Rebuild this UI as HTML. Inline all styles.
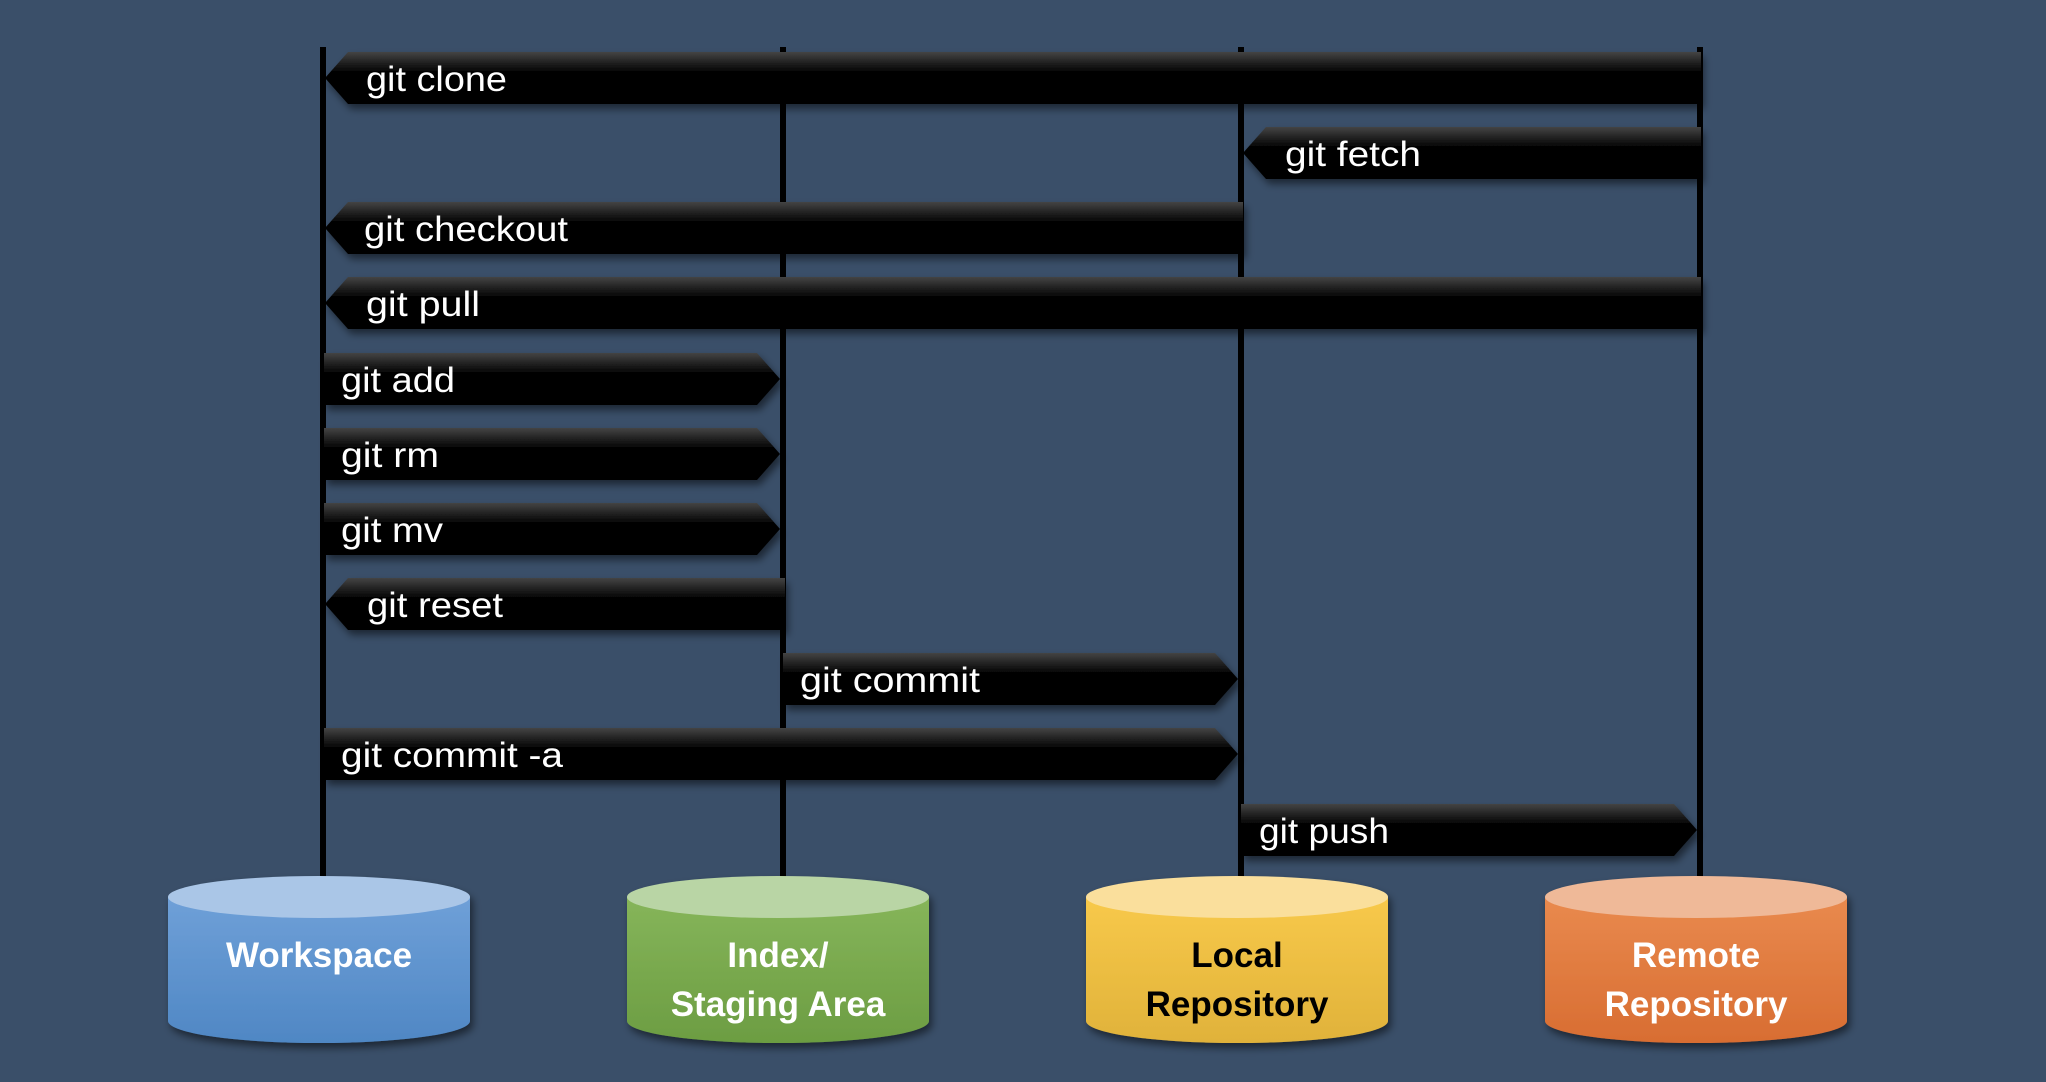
<!DOCTYPE html>
<html><head><meta charset="utf-8"><style>
html,body{margin:0;padding:0;background:#3a4f69;}
svg{display:block}
text{font-family:"Liberation Sans",sans-serif}
</style></head><body>
<svg width="2046" height="1082" viewBox="0 0 2046 1082" xmlns="http://www.w3.org/2000/svg">
<defs>
<linearGradient id="bar" x1="0" y1="0" x2="0" y2="1">
<stop offset="0" stop-color="#444"/><stop offset="0.4" stop-color="#000"/><stop offset="1" stop-color="#000"/>
</linearGradient>
<linearGradient id="blue" x1="0" y1="0" x2="0" y2="1"><stop offset="0" stop-color="#6fa0d8"/><stop offset="1" stop-color="#4f87c4"/></linearGradient>
<linearGradient id="green" x1="0" y1="0" x2="0" y2="1"><stop offset="0" stop-color="#86b55a"/><stop offset="1" stop-color="#6c9d42"/></linearGradient>
<linearGradient id="yellow" x1="0" y1="0" x2="0" y2="1"><stop offset="0" stop-color="#f8c94a"/><stop offset="1" stop-color="#e0b23a"/></linearGradient>
<linearGradient id="orange" x1="0" y1="0" x2="0" y2="1"><stop offset="0" stop-color="#e98a4e"/><stop offset="1" stop-color="#d86d32"/></linearGradient>
<filter id="sh" x="-10%" y="-10%" width="120%" height="130%"><feDropShadow dx="3" dy="5" stdDeviation="4" flood-color="#000" flood-opacity="0.5"/></filter>
</defs>
<g stroke="#000" stroke-width="6">
<line x1="323" y1="47" x2="323" y2="880"/>
<line x1="783" y1="47" x2="783" y2="880"/>
<line x1="1241" y1="47" x2="1241" y2="880"/>
<line x1="1700" y1="47" x2="1700" y2="880"/>
</g>
<g fill="url(#bar)" filter="url(#sh)">
<polygon points="325,78 348,52 1701,52 1701,104 348,104"/>
<polygon points="1243,153 1266,127 1701,127 1701,179 1266,179"/>
<polygon points="325,228 348,202 1243,202 1243,254 348,254"/>
<polygon points="325,303 348,277 1701,277 1701,329 348,329"/>
<polygon points="324,353 757,353 780,379 757,405 324,405"/>
<polygon points="324,428 757,428 780,454 757,480 324,480"/>
<polygon points="324,503 757,503 780,529 757,555 324,555"/>
<polygon points="325,604 348,578 785,578 785,630 348,630"/>
<polygon points="783,653 1215,653 1238,679 1215,705 783,705"/>
<polygon points="324,728 1215,728 1238,754 1215,780 324,780"/>
<polygon points="1241,804 1674,804 1697,830 1674,856 1241,856"/>
</g>
<g fill="#fff" font-size="35">
<text x="366" y="91" textLength="141" lengthAdjust="spacingAndGlyphs">git clone</text>
<text x="1285" y="166" textLength="136" lengthAdjust="spacingAndGlyphs">git fetch</text>
<text x="364" y="241" textLength="204" lengthAdjust="spacingAndGlyphs">git checkout</text>
<text x="366" y="316" textLength="114" lengthAdjust="spacingAndGlyphs">git pull</text>
<text x="341" y="392" textLength="114" lengthAdjust="spacingAndGlyphs">git add</text>
<text x="341" y="467" textLength="98" lengthAdjust="spacingAndGlyphs">git rm</text>
<text x="341" y="542" textLength="102" lengthAdjust="spacingAndGlyphs">git mv</text>
<text x="367" y="617" textLength="136" lengthAdjust="spacingAndGlyphs">git reset</text>
<text x="800" y="692" textLength="180" lengthAdjust="spacingAndGlyphs">git commit</text>
<text x="341" y="767" textLength="222" lengthAdjust="spacingAndGlyphs">git commit -a</text>
<text x="1259" y="843" textLength="130" lengthAdjust="spacingAndGlyphs">git push</text>
</g>
<g filter="url(#sh)">
<path d="M168,897 L168,1021 A151,22 0 0 0 470,1021 L470,897 Z" fill="url(#blue)"/>
<ellipse cx="319" cy="897" rx="151" ry="21" fill="#aac6e7"/>
<path d="M627,897 L627,1021 A151,22 0 0 0 929,1021 L929,897 Z" fill="url(#green)"/>
<ellipse cx="778" cy="897" rx="151" ry="21" fill="#b9d5a5"/>
<path d="M1086,897 L1086,1021 A151,22 0 0 0 1388,1021 L1388,897 Z" fill="url(#yellow)"/>
<ellipse cx="1237" cy="897" rx="151" ry="21" fill="#fadf9c"/>
<path d="M1545,897 L1545,1021 A151,22 0 0 0 1847,1021 L1847,897 Z" fill="url(#orange)"/>
<ellipse cx="1696" cy="897" rx="151" ry="21" fill="#efb998"/>
</g>
<g font-size="35" font-weight="bold" text-anchor="middle">
<text x="319" y="967" fill="#fff">Workspace</text>
<text x="778" y="967" fill="#fff">Index/</text>
<text x="778" y="1016" fill="#fff">Staging Area</text>
<text x="1237" y="967" fill="#000">Local</text>
<text x="1237" y="1016" fill="#000">Repository</text>
<text x="1696" y="967" fill="#fff">Remote</text>
<text x="1696" y="1016" fill="#fff">Repository</text>
</g>
</svg>
</body></html>
